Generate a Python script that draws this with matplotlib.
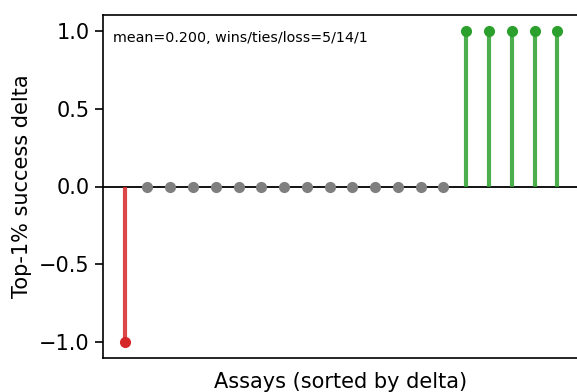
import matplotlib
matplotlib.use("Agg")
import matplotlib.pyplot as plt
import numpy as np

deltas = [-1.0] + [0.0] * 14 + [1.0] * 5
colors_map = {"loss": "#d62728", "tie": "#7f7f7f", "win": "#2ca02c"}
summary = "mean=0.200, wins/ties/loss=5/14/1"
xlabel = "Assays (sorted by delta)"
ylabel = "Top-1% success delta"

fig = plt.figure(figsize=(5.77, 3.92), dpi=100)
ax = fig.add_axes([103/577, (392-358)/392, (579-103)/577, (358-15)/392])

x = np.arange(len(deltas))
for xi, d in zip(x, deltas):
    if d > 0:
        c = colors_map["win"]
    elif d < 0:
        c = colors_map["loss"]
    else:
        c = colors_map["tie"]
    if d != 0:
        ax.vlines(xi, 0, d, color=c, linewidth=3, alpha=0.85, zorder=2)
    ax.plot(xi, d, "o", color=c, markersize=7, zorder=3)

ax.axhline(0, color="black", linewidth=1.3, zorder=1)
for s in ax.spines.values():
    s.set_linewidth(1.2)
ax.set_xticks([])
ax.set_yticks([-1.0, -0.5, 0.0, 0.5, 1.0])
ax.tick_params(axis="y", labelsize=15, length=6, width=1.2, pad=3.5)
ax.set_ylabel(ylabel, fontsize=15, labelpad=5.5)
ax.set_xlabel(xlabel, fontsize=15, labelpad=10)
ax.text(0.02, 0.953, summary, transform=ax.transAxes, fontsize=10.3, va="top", ha="left")

fig.savefig("out.png", dpi=100)
